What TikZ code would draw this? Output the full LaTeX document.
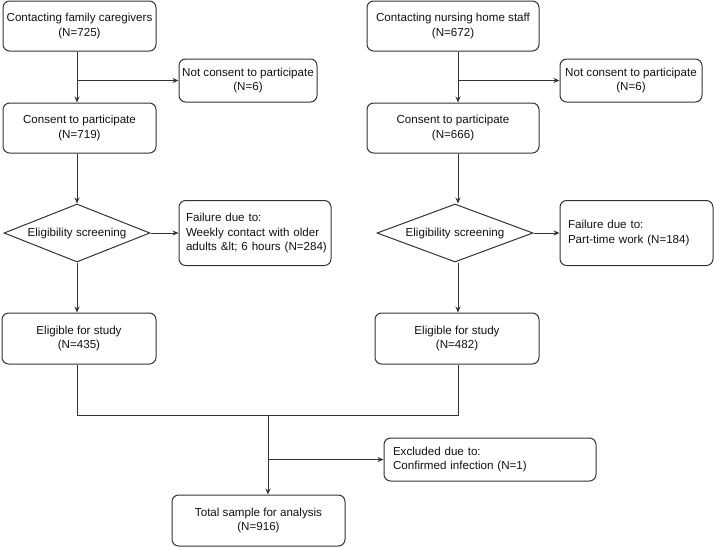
\documentclass[tikz,border=0pt]{standalone}
\usepackage{fontspec}
\setmainfont{Liberation Sans}
\usetikzlibrary{shapes.geometric,arrows.meta}
\definecolor{edge}{HTML}{333333}
\definecolor{ink}{HTML}{111111}
\newcommand{\px}{0.75pt}
\tikzset{
  box/.style={draw=edge, line width=0.75pt, rounded corners=5pt, align=center,
    inner sep=0pt, text=ink, font=\fontsize{8.7}{10.8}\selectfont},
  notebox/.style={box, align=left, inner xsep=6*\px},
  screen/.style={draw=edge, line width=0.75pt, diamond, aspect=2.6, inner sep=0pt,
    minimum height=58*\px, text=ink, font=\fontsize{8.7}{10.8}\selectfont},
  arr/.style={draw=edge, line width=0.75pt, -{Stealth[length=4.5pt,width=3.8pt]}},
  link/.style={draw=edge, line width=0.75pt}
}

\begin{document}
\begin{tikzpicture}[x=\px, y=-\px]
  \useasboundingbox (0,0) rectangle (714,547);

  \coordinate (colL) at (77,0);
  \coordinate (colR) at (458,0);
  \coordinate (colC) at (268,0);

  \node[box, minimum width=153*\px, minimum height=50*\px] (cfc) at (79.5,26)
    {Contacting family caregivers\\(N=725)};
  \node[box, minimum width=138*\px, minimum height=43*\px] (ncl) at (248,80.5)
    {Not consent to participate\\(N=6)};
  \node[box, minimum width=153*\px, minimum height=50*\px] (cpl) at (79.5,128)
    {Consent to participate\\(N=719)};
  \node[screen, minimum width=146*\px] (scl) at (77,233) {Eligibility screening};
  \node[notebox, minimum width=152*\px, minimum height=65*\px, inner xsep=7*\px, text width=103.5pt] (fl) at (255,233)
    {Failure due to:\\Weekly contact with older\\\mbox{adults \&lt; 6 hours (N=284)}};
  \node[box, minimum width=154*\px, minimum height=51*\px] (el) at (79,338.5)
    {Eligible for study\\(N=435)};

  \node[box, minimum width=172*\px, minimum height=50*\px] (cfr) at (453,26)
    {Contacting nursing home staff\\(N=672)};
  \node[box, minimum width=142*\px, minimum height=43*\px] (ncr) at (631,80.5)
    {Not consent to participate\\(N=6)};
  \node[box, minimum width=172*\px, minimum height=50*\px] (cpr) at (453,128)
    {Consent to participate\\(N=666)};
  \node[screen, minimum width=156*\px] (scr) at (455,233) {Eligibility screening};
  \node[notebox, minimum width=153*\px, minimum height=65*\px, inner xsep=8*\px, text width=102.75pt] (fr) at (636.5,233)
    {Failure due to:\\Part-time work (N=184)};
  \node[box, minimum width=164*\px, minimum height=51*\px] (er) at (457,338.5)
    {Eligible for study\\(N=482)};

  \node[notebox, minimum width=212*\px, minimum height=43*\px, inner xsep=9*\px, text width=145.5pt] (ex) at (490,459.5)
    {Excluded due to:\\Confirmed infection (N=1)};
  \node[box, minimum width=173*\px, minimum height=51*\px] (tot) at (258.5,520.5)
    {Total sample for analysis\\(N=916)};

  \draw[arr] (cfc.south -| colL) -- (cpl.north -| colL);
  \coordinate (jl) at (colL |- ncl.west);
  \draw[arr] (jl) -- (ncl.west);
  \draw[arr] (cpl.south -| colL) -- (scl.north);
  \draw[arr] (scl.east) -- (fl.west);
  \draw[arr] (scl.south) -- (el.north -| colL);

  \draw[arr] (cfr.south -| colR) -- (cpr.north -| colR);
  \coordinate (jr) at (colR |- ncr.west);
  \draw[arr] (jr) -- (ncr.west);
  \draw[arr] (cpr.south -| colR) -- (scr.north -| colR);
  \draw[arr] (scr.east) -- (fr.west);
  \draw[arr] (scr.south -| colR) -- (er.north -| colR);

  \coordinate (ml) at (77,415);
  \coordinate (mr) at (458,415);
  \coordinate (mc) at (colC |- ml);
  \draw[link] (el.south -| colL) -- (ml) -- (mr) -- (er.south -| colR);
  \draw[arr] (mc) -- (tot.north -| mc);
  \coordinate (jc) at (colC |- ex.west);
  \draw[arr] (jc) -- (ex.west);
\end{tikzpicture}
\end{document}
